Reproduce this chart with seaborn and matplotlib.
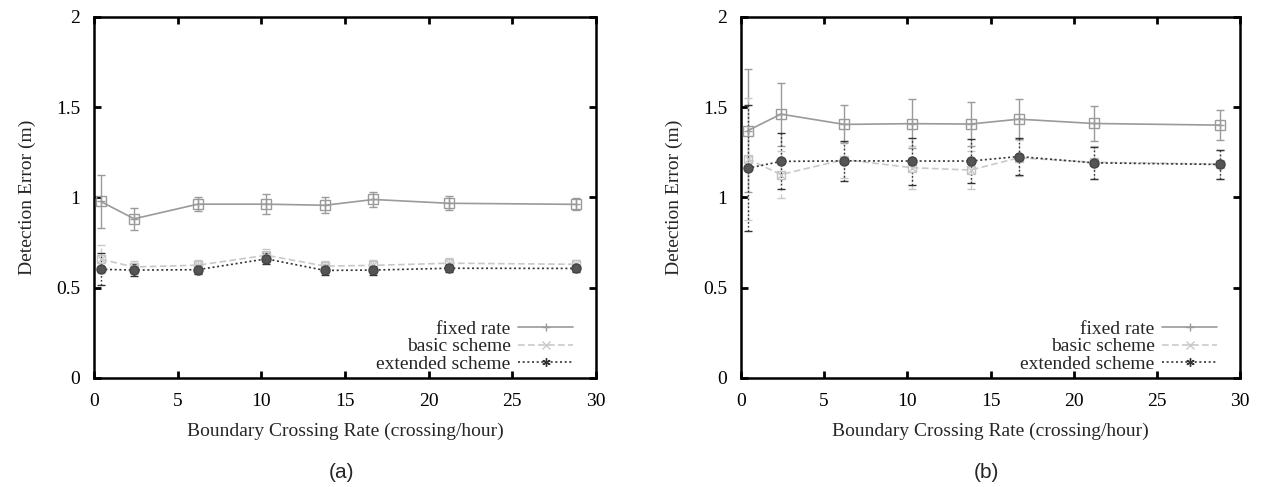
import numpy as np
import pandas as pd
import matplotlib
matplotlib.use("Agg")
import matplotlib.pyplot as plt
import seaborn as sns

# Boundary crossing rates (crossing/hour)
rate = [0.4, 2.4, 6.2, 10.3, 13.8, 16.7, 21.2, 28.8]

# Panel (a): mean detection error (m) and error-bar half widths
a_fixed = [0.978, 0.882, 0.963, 0.963, 0.957, 0.989, 0.968, 0.962]
a_fixed_err = [0.148, 0.06, 0.04, 0.055, 0.044, 0.041, 0.038, 0.034]
a_basic = [0.658, 0.615, 0.625, 0.68, 0.62, 0.624, 0.636, 0.63]
a_basic_err = [0.078, 0.035, 0.03, 0.035, 0.03, 0.03, 0.028, 0.025]
a_ext = [0.602, 0.598, 0.6, 0.66, 0.596, 0.598, 0.608, 0.607]
a_ext_err = [0.088, 0.035, 0.025, 0.03, 0.028, 0.025, 0.022, 0.02]

# Panel (b)
b_fixed = [1.37, 1.462, 1.405, 1.409, 1.407, 1.434, 1.41, 1.401]
b_fixed_err = [0.34, 0.175, 0.105, 0.135, 0.123, 0.11, 0.095, 0.083]
b_basic = [1.214, 1.127, 1.21, 1.165, 1.152, 1.22, 1.195, 1.185]
b_basic_err = [0.34, 0.13, 0.1, 0.12, 0.105, 0.1, 0.09, 0.08]
b_ext = [1.162, 1.2, 1.203, 1.202, 1.202, 1.227, 1.192, 1.183]
b_ext_err = [0.35, 0.155, 0.11, 0.13, 0.12, 0.1, 0.09, 0.078]

series_names = ["fixed rate", "basic scheme", "extended scheme"]
x_ticks = [0, 5, 10, 15, 20, 25, 30]
y_ticks = [0, 0.5, 1, 1.5, 2]
y_tick_labels = ["0", "0.5", "1", "1.5", "2"]
panel_tags = ["(a)", "(b)"]

sns.set_theme(style="ticks")
plt.rcParams["font.family"] = ["Liberation Serif", "DejaVu Serif"]

styles = {
    "fixed rate": dict(color="#9a9a9a", ls="-", bar_ls="-", legend_marker="+",
                       pt_marker="s", pt_face="none", pt_edge="#9a9a9a", pt_size=7),
    "basic scheme": dict(color="#c9c9c9", ls=(0, (4, 2)), bar_ls=(0, (3, 2)),
                         legend_marker="x", pt_marker="s", pt_face="none",
                         pt_edge="#c4c4c4", pt_size=6),
    "extended scheme": dict(color="#333333", ls=(0, (1.2, 1.6)), bar_ls=(0, (1.2, 1.6)),
                            legend_marker=(6, 2, 0), pt_marker="o", pt_face="#555555",
                            pt_edge="#444444", pt_size=6.5),
}

fig = plt.figure(figsize=(12.61, 4.87), dpi=100)
W, H = 1261, 487
ax_a = fig.add_axes([94 / W, 1 - 378 / H, (596 - 94) / W, (378 - 17) / H])
ax_b = fig.add_axes([741 / W, 1 - 378 / H, (1240 - 741) / W, (378 - 17) / H])

panels = [
    (ax_a, [(a_fixed, a_fixed_err), (a_basic, a_basic_err), (a_ext, a_ext_err)]),
    (ax_b, [(b_fixed, b_fixed_err), (b_basic, b_basic_err), (b_ext, b_ext_err)]),
]

FS = 14
for (ax, data), tag in zip(panels, panel_tags):
    for name, (vals, errs) in zip(series_names, data):
        st = styles[name]
        df = pd.DataFrame({"rate": rate, "err": vals})
        eb = ax.errorbar(rate, vals, yerr=errs, fmt="none", ecolor=st["color"],
                         elinewidth=1.0, capsize=3, capthick=1.0, zorder=2)
        for coll in eb[2]:
            coll.set_linestyle(st["bar_ls"])
        sns.lineplot(data=df, x="rate", y="err", ax=ax, color=st["color"],
                     linestyle=st["ls"], linewidth=1.2, marker=st["legend_marker"],
                     markersize=6, markeredgewidth=1.0, markeredgecolor=st["color"],
                     label=name, zorder=3)
        ax.plot(rate, vals, linestyle="none", marker=st["pt_marker"],
                markersize=st["pt_size"], markerfacecolor=st["pt_face"],
                markeredgecolor=st["pt_edge"], markeredgewidth=1.0, zorder=4)

    ax.set_xlim(0, 30)
    ax.set_ylim(0, 2)
    ax.set_xticks(x_ticks)
    ax.set_xticklabels([str(t) for t in x_ticks])
    ax.set_yticks(y_ticks)
    ax.set_yticklabels(y_tick_labels)
    ax.tick_params(direction="in", length=5, width=2, top=True, right=True,
                   labelsize=FS, colors="black")
    ax.tick_params(axis="x", pad=11)
    ax.tick_params(axis="y", pad=10)
    for sp in ax.spines.values():
        sp.set_visible(True)
        sp.set_linewidth(1.8)
        sp.set_color("black")
    ax.set_xlabel("Boundary Crossing Rate (crossing/hour)", fontsize=FS, labelpad=9)
    ax.set_ylabel("Detection Error (m)", fontsize=FS, labelpad=14)

    # markerfirst=False right-aligns each label against its handle
    ax.legend(loc="lower right", frameon=False, markerfirst=False,
              fontsize=FS, handlelength=2.8, labelspacing=0.0,
              handletextpad=0.4, borderaxespad=0.3,
              bbox_to_anchor=(0.981, -0.024))

    pos = ax.get_position()
    fig.text(pos.x0 + pos.width / 2 - 0.003, 1 - 473 / H, tag, ha="center", va="center",
             fontsize=15, family=["Liberation Sans", "DejaVu Sans"])

fig.savefig("out.png", dpi=100)
